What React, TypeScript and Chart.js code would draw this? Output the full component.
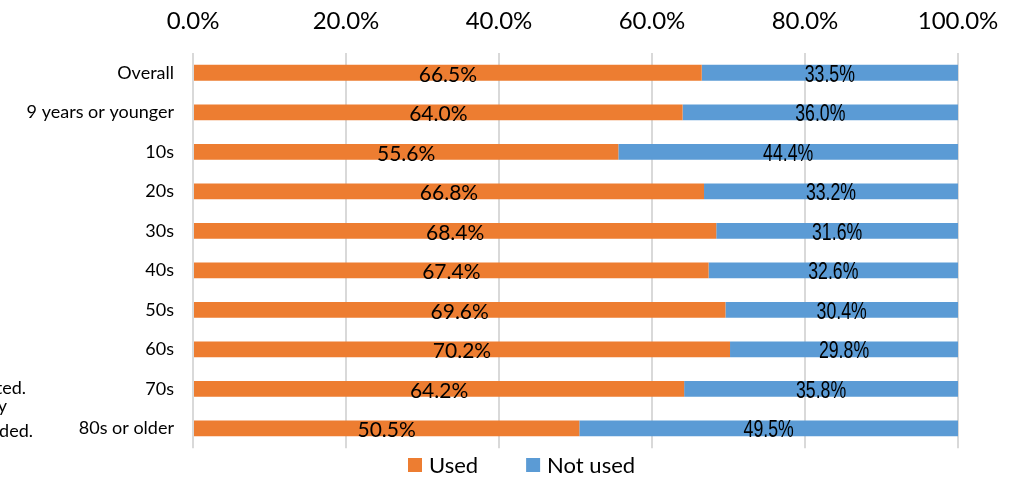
import React, { useEffect, useRef } from "react";
import { Chart, registerables } from "chart.js";

Chart.register(...registerables);

const categories = [
  "Overall",
  "9 years or younger",
  "10s",
  "20s",
  "30s",
  "40s",
  "50s",
  "60s",
  "70s",
  "80s or older",
];
const usedValues = [66.5, 64.0, 55.6, 66.8, 68.4, 67.4, 69.6, 70.2, 64.2, 50.5];
const notUsedValues = [33.5, 36.0, 44.4, 33.2, 31.6, 32.6, 30.4, 29.8, 35.8, 49.5];
const seriesNames = ["Used", "Not used"];
const seriesColors = ["#ED7D31", "#5B9BD5"];
const noteFragments = ["ted.", "y", "ded."];

const LABEL_FONT = 'Lato, "Noto Sans", sans-serif';
const ARIAL_FONT = '"Liberation Sans", Arial, sans-serif';

const dataLabelPlugin = {
  id: "dataLabels",
  afterDatasetsDraw(chart: any) {
    const ctx = chart.ctx;
    chart.data.datasets.forEach((ds: any, di: number) => {
      const meta = chart.getDatasetMeta(di);
      meta.data.forEach((el: any, i: number) => {
        const v = ds.data[i];
        const cx = (el.x + el.base) / 2;
        const text = v.toFixed(1) + "%";
        ctx.save();
        ctx.fillStyle = "#000";
        ctx.textAlign = "center";
        ctx.textBaseline = "alphabetic";
        if (di === 0) {
          ctx.font = `21px ${LABEL_FONT}`;
          ctx.fillText(text, cx, el.y + 9);
        } else {
          // narrow style: horizontally condensed sans
          ctx.font = `23px ${ARIAL_FONT}`;
          ctx.translate(cx, el.y + 9);
          ctx.scale(0.77, 1);
          ctx.fillText(text, 0, 0);
        }
        ctx.restore();
      });
    });
  },
};

const legendPlugin = {
  id: "customLegend",
  afterDraw(chart: any) {
    const ctx = chart.ctx;
    ctx.save();
    ctx.font = `22px ${LABEL_FONT}`;
    const box = 14;
    const gap = 7;
    const itemGap = 48;
    const widths = chart.data.datasets.map((d: any) => ctx.measureText(d.label).width);
    let x = 408;
    const cy = 465;
    chart.data.datasets.forEach((d: any, i: number) => {
      ctx.fillStyle = d.backgroundColor;
      ctx.fillRect(x, cy - box / 2, box, box);
      ctx.fillStyle = "#000";
      ctx.textAlign = "left";
      ctx.textBaseline = "middle";
      ctx.fillText(d.label, x + box + gap, cy + 1);
      x += box + gap + widths[i] + itemGap;
    });
    // clipped note fragments at the left edge
    ctx.font = `18px ${LABEL_FONT}`;
    ctx.textAlign = "right";
    ctx.textBaseline = "alphabetic";
    ctx.fillText(noteFragments[0], 26, 394);
    ctx.fillText(noteFragments[1], 7, 412);
    ctx.fillText(noteFragments[2], 33, 437);
    ctx.restore();
  },
};

export default function App() {
  const ref = useRef<HTMLCanvasElement>(null);
  useEffect(() => {
    if (!ref.current) return;
    const chart = new Chart(ref.current, {
      type: "bar",
      data: {
        labels: categories,
        datasets: [
          {
            label: seriesNames[0],
            data: usedValues,
            backgroundColor: seriesColors[0],
            barPercentage: 0.4,
            categoryPercentage: 1,
          },
          {
            label: seriesNames[1],
            data: notUsedValues,
            backgroundColor: seriesColors[1],
            barPercentage: 0.4,
            categoryPercentage: 1,
          },
        ],
      },
      options: {
        indexAxis: "y",
        animation: false,
        responsive: true,
        maintainAspectRatio: false,
        layout: { padding: { left: 0, right: 69, top: 0, bottom: 26 } },
        plugins: {
          legend: { display: false },
          tooltip: { enabled: false },
        },
        scales: {
          x: {
            position: "top",
            stacked: true,
            min: 0,
            max: 100,
            ticks: {
              stepSize: 20,
              padding: 17,
              color: "#000",
              font: { family: LABEL_FONT, size: 24 },
              callback: (v: any) => Number(v).toFixed(1) + "%",
            },
            grid: { color: "#d9d9d9", lineWidth: 2, drawTicks: false },
            border: { display: false },
            afterFit: (s: any) => {
              s.height = 53;
            },
          },
          y: {
            stacked: true,
            ticks: {
              padding: 19,
              color: "#000",
              font: { family: LABEL_FONT, size: 18 },
            },
            grid: { display: false, drawTicks: false },
            border: { display: false },
            afterFit: (s: any) => {
              s.width = 193;
            },
          },
        },
      },
      plugins: [dataLabelPlugin, legendPlugin],
    } as any);
    return () => chart.destroy();
  }, []);
  return (
    <div style={{ position: "fixed", left: 0, top: 0, width: 1027, height: 478, background: "#fff" }}>
      <canvas ref={ref} />
    </div>
  );
}
